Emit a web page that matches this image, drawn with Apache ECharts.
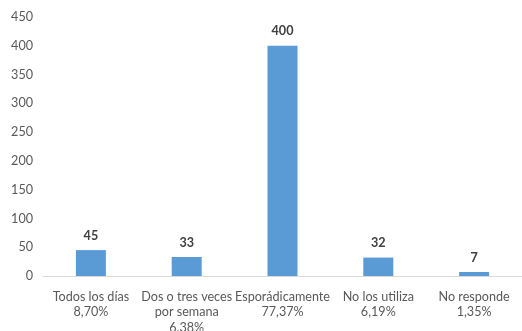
<!DOCTYPE html>
<html><head><meta charset="utf-8">
<script src="https://cdn.jsdelivr.net/npm/echarts@6/dist/echarts.min.js"></script>
<style>html,body{margin:0;padding:0;background:#fff}#c{width:522px;height:331px}</style>
</head><body><div id="c"></div>
<script>
const categories = ["Todos los días\n8,70%", "Dos o tres veces\npor semana\n6.38%", "Esporádicamente\n77,37%", "No los utiliza\n6,19%", "No responde\n1,35%"];
const values = [45, 33, 400, 32, 7];
const yTicks = {min: 0, max: 450, interval: 50};

const chart = echarts.init(document.getElementById('c'));
chart.setOption({
  animation: false,
  grid: {left: 43, right: 0, top: 17, bottom: 55, containLabel: false, outerBoundsMode: 'none'},
  xAxis: {
    type: 'category', data: categories,
    axisLine: {lineStyle: {color: '#d9d9d9'}},
    axisTick: {show: false},
    axisLabel: {interval: 0, color: '#595959', fontFamily: 'Lato', fontSize: 12.6, lineHeight: 15.5, margin: 13}
  },
  yAxis: {
    type: 'value', min: yTicks.min, max: yTicks.max, interval: yTicks.interval,
    splitLine: {show: false},
    axisLabel: {color: '#595959', fontFamily: 'Lato', fontSize: 12.6, margin: 10}
  },
  series: [{
    type: 'bar', data: values, barWidth: 30,
    itemStyle: {color: '#5b9bd5'},
    label: {show: true, position: 'top', distance: 8, color: '#404040', fontWeight: 'bold', fontFamily: 'Lato', fontSize: 12.6}
  }]
});
</script></body></html>
